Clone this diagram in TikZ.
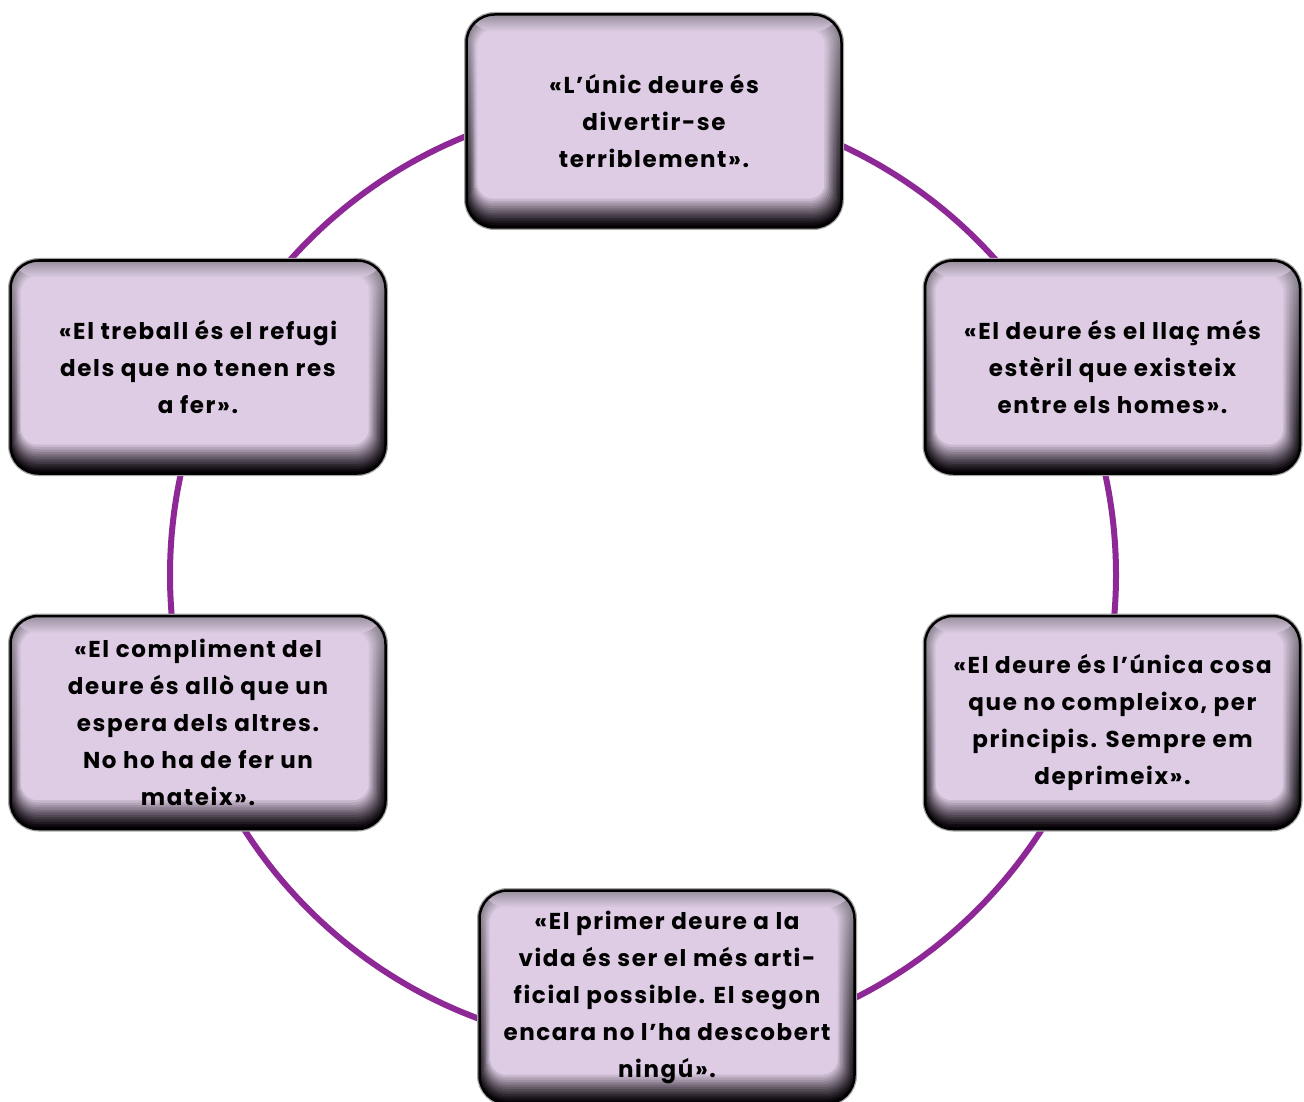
\documentclass[tikz,border=0pt]{standalone}
\usepackage{fontspec}
\newfontfamily\quotefont{Poppins}[LetterSpace=7]
\usepackage{tikz}
\usetikzlibrary{positioning}
\definecolor{lilac}{RGB}{221, 204, 228}
\definecolor{ring}{RGB}{142, 40, 150}
\definecolor{bevtop}{RGB}{150, 142, 155}
\definecolor{bevside}{RGB}{105, 95, 108}
\definecolor{bevdark}{RGB}{5, 0, 5}
\tikzstyle{quote} = [rectangle, rounded corners=28pt, draw=black, line width=2.5pt, fill=lilac, text=black, align=center, inner sep=0pt, font=\fontsize{23}{37}\quotefont\bfseries, minimum width=375pt, minimum height=213pt,
  preaction={draw=black!35, line width=5pt},
  path picture={
    \foreach \i in {0,...,12} {
      \pgfmathsetmacro\mix{100*(\i/12)^1.2}
      \pgfmathsetmacro\rad{28-\i}
      \shade[top color=lilac!\mix!bevtop, middle color=lilac!\mix!bevside, bottom color=lilac!\mix!bevdark, rounded corners=\rad pt]
        ([xshift=\i*0.9pt, yshift=\i*2.4pt]path picture bounding box.south west) rectangle
        ([xshift=-\i*1.4pt, yshift=-\i*1.3pt]path picture bounding box.north east);
    }
    \shade[top color=bevtop, bottom color=lilac]
      ([yshift=-17pt]path picture bounding box.north west) rectangle (path picture bounding box.north east);
  }]
\tikzstyle{cycle} = [draw=ring, line width=6pt]

\begin{document}
\begin{tikzpicture}[x=1pt, y=-1pt]
\useasboundingbox (0,0) rectangle (1304,1102);

% ring =============================
\coordinate (centre) at (643,575);
\draw[cycle] (centre) circle (473pt);

% quotes
\node[quote] (top) at (654,121) {«L’únic deure és\\divertir-se\\terriblement».};
\node[quote] (upleft) at (198,367) {«El treball és el refugi\\dels que no tenen res\\a fer».};
\node[quote, below=140pt of upleft] (lowleft) {«El compliment del\\deure és allò que un\\espera dels altres.\\No ho ha de fer un\\mateix».};
\node[quote, right=537pt of upleft] (upright) {«El deure és el llaç més\\estèril que existeix\\entre els homes».};
\node[quote, right=537pt of lowleft] (lowright) {«El deure és l’única cosa\\que no compleixo, per\\principis. Sempre em\\deprimeix».};
\node[quote] (bottom) at (667,997) {«El primer deure a la\\vida és ser el més arti-\\ficial possible. El segon\\encara no l’ha descobert\\ningú».};

\end{tikzpicture}
\end{document}
